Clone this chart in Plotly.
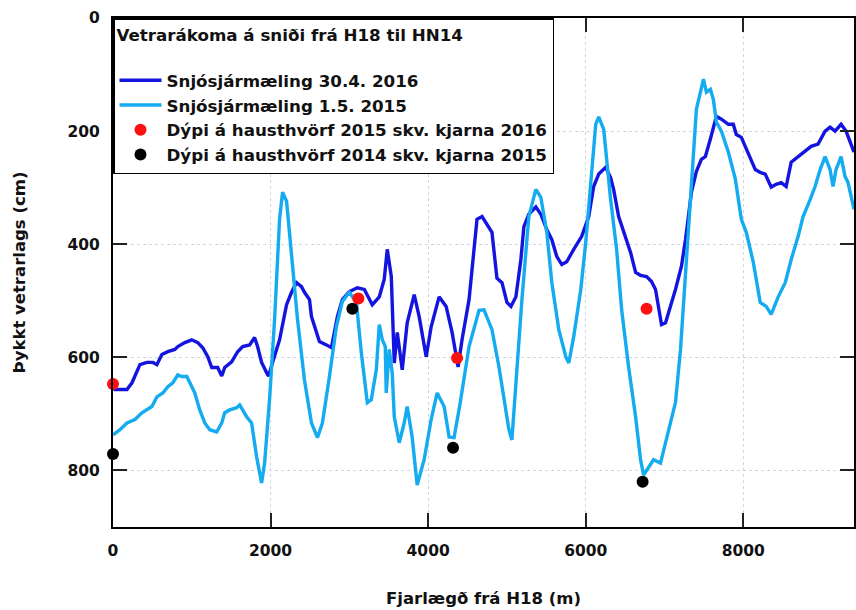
import plotly.graph_objects as go

# Snow radar 30.4.2016 (dark blue)
x_2016 = [0, 25, 177, 241, 342, 430, 506, 557, 620, 696, 785, 823, 911, 1000, 1076, 1139, 1203, 1253, 1329, 1380,
          1418, 1506, 1582, 1646, 1734, 1797, 1835, 1886, 1949, 1975, 2025, 2114, 2203, 2266, 2329, 2392, 2430, 2494,
          2519, 2620, 2709, 2772, 2848, 2911, 3000, 3101, 3190, 3291, 3380, 3443, 3481, 3532, 3570, 3608, 3671, 3734,
          3823, 3886, 3975, 4038, 4139, 4228, 4304, 4380, 4430, 4519, 4620, 4684, 4810, 4873, 4937, 5000, 5051, 5114,
          5177, 5215, 5278, 5367, 5430, 5506, 5570, 5633, 5696, 5759, 5848, 5949, 6038, 6101, 6165, 6253, 6316, 6354,
          6418, 6506, 6570, 6633, 6696, 6772, 6835, 6886, 6924, 6962, 7013, 7076, 7139, 7215, 7266, 7342, 7405, 7468,
          7519, 7582, 7620, 7658, 7722, 7810, 7873, 7911, 7975, 8063, 8152, 8215, 8278, 8354, 8418, 8481, 8544, 8608,
          8696, 8785, 8861, 8949, 9038, 9101, 9165, 9241, 9304, 9405]
y_2016 = [655, 657, 657, 645, 613, 609, 609, 613, 595, 590, 586, 581, 574, 569, 574, 583, 599, 618, 618, 633,
          618, 608, 590, 581, 578, 565, 581, 609, 627, 633, 609, 569, 507, 485, 468, 475, 485, 498,
          528, 572, 578, 583, 528, 498, 484, 477, 480, 507, 493, 462, 409, 457, 610, 556, 622, 539,
          489, 528, 599, 546, 493, 510, 556, 617, 569, 498, 356, 351, 379, 460, 468, 503, 510, 493,
          427, 369, 347, 334, 347, 374, 392, 422, 436, 431, 409, 386, 351, 298, 276, 264, 282, 303,
          351, 386, 415, 450, 455, 457, 466, 480, 510, 542, 539, 510, 480, 439, 392, 308, 271, 250,
          245, 214, 191, 174, 179, 188, 188, 206, 211, 241, 268, 273, 276, 299, 294, 291, 298, 255,
          245, 236, 227, 223, 200, 193, 200, 188, 200, 237]

# Snow radar 1.5.2015 (light blue)
x_2015 = [0, 89, 177, 278, 367, 430, 494, 557, 633, 696, 759, 823, 873, 937, 975, 1038, 1101, 1165, 1228, 1316,
          1380, 1418, 1481, 1570, 1608, 1696, 1759, 1823, 1886, 1924, 1987, 2051, 2114, 2152, 2203, 2266, 2342, 2430,
          2519, 2595, 2658, 2747, 2835, 2911, 3000, 3089, 3152, 3228, 3278, 3342, 3380, 3418, 3456, 3468, 3506, 3544,
          3570, 3633, 3696, 3734, 3797, 3861, 3949, 4038, 4114, 4203, 4266, 4329, 4405, 4519, 4646, 4709, 4810, 4899,
          5025, 5063, 5127, 5190, 5278, 5367, 5430, 5506, 5570, 5658, 5747, 5785, 5848, 5937, 6000, 6063, 6127, 6165,
          6228, 6316, 6392, 6456, 6544, 6633, 6696, 6734, 6797, 6861, 6949, 7013, 7076, 7139, 7203, 7278, 7342, 7405,
          7456, 7494, 7532, 7582, 7620, 7658, 7722, 7810, 7899, 7975, 8038, 8127, 8215, 8291, 8354, 8443, 8532, 8608,
          8696, 8759, 8848, 8911, 8975, 9038, 9101, 9139, 9177, 9241, 9291, 9329, 9405]
y_2015 = [737, 728, 716, 710, 698, 693, 687, 670, 663, 652, 645, 631, 634, 634, 645, 663, 693, 716, 728, 732,
          716, 698, 693, 689, 684, 705, 716, 776, 822, 787, 675, 533, 356, 308, 324, 415, 533, 640,
          716, 742, 716, 634, 546, 501, 485, 503, 592, 680, 675, 622, 542, 569, 581, 663, 586, 627,
          705, 751, 716, 687, 741, 826, 781, 710, 663, 687, 741, 742, 682, 581, 517, 516, 551, 617,
          728, 746, 622, 498, 351, 303, 317, 379, 468, 551, 599, 610, 563, 480, 397, 291, 188, 175,
          197, 321, 409, 516, 617, 705, 781, 808, 794, 781, 787, 751, 716, 680, 586, 427, 308, 161,
          131, 108, 131, 126, 144, 184, 200, 237, 285, 356, 379, 432, 503, 510, 524, 493, 468, 427,
          386, 351, 321, 298, 268, 245, 268, 298, 268, 245, 280, 291, 338]

# Core depths
x_core2016 = [0, 3114, 4367, 6772]
y_core2016 = [647, 496, 601, 514]
x_core2015 = [0, 3038, 4316, 6722]
y_core2015 = [771, 514, 760, 820]

FONT = "DejaVu Sans, Liberation Sans, Arial, sans-serif"

fig = go.Figure()
fig.add_trace(go.Scatter(x=x_2016, y=y_2016, mode="lines", name="Snjósjármæling 30.4. 2016",
                         line=dict(color="#1414E0", width=3.4)))
fig.add_trace(go.Scatter(x=x_2015, y=y_2015, mode="lines", name="Snjósjármæling 1.5. 2015",
                         line=dict(color="#14ABF0", width=3.4)))
fig.add_trace(go.Scatter(x=x_core2016, y=y_core2016, mode="markers",
                         name="Dýpi á hausthvörf 2015 skv. kjarna 2016",
                         marker=dict(color="#FF1010", size=12), cliponaxis=False))
fig.add_trace(go.Scatter(x=x_core2015, y=y_core2015, mode="markers",
                         name="Dýpi á hausthvörf 2014 skv. kjarna 2015",
                         marker=dict(color="#000000", size=12), cliponaxis=False))

axis_common = dict(
    showline=True, linecolor="black", linewidth=2,
    ticks="inside", ticklen=14, tickwidth=2, tickcolor="#222",
    mirror="ticks",
    showgrid=True, gridcolor="#d4d4e0", griddash="dot", gridwidth=1,
    zeroline=False,
    tickfont=dict(family=FONT, size=15.5, color="#111", weight="bold"),
)

fig.update_xaxes(range=[0, 9405], tickvals=[0, 2000, 4000, 6000, 8000],
                 ticklabelstandoff=8,
                 title=dict(text="Fjarlægð frá H18 (m)", standoff=34,
                            font=dict(family=FONT, size=16.5, color="#111", weight="bold")),
                 **axis_common)
fig.update_yaxes(range=[900, 0], tickvals=[0, 200, 400, 600, 800],
                 ticklabelstandoff=8,
                 title=dict(text="Þykkt vetrarlags (cm)", standoff=38,
                            font=dict(family=FONT, size=16.5, color="#111", weight="bold")),
                 **axis_common)

fig.update_layout(
    width=856, height=610,
    margin=dict(l=113, r=0, t=18, b=83),
    paper_bgcolor="white", plot_bgcolor="white",
    font=dict(family=FONT, color="#111"),
    legend=dict(
        x=0, y=1, xanchor="left", yanchor="top",
        bgcolor="white", bordercolor="black", borderwidth=1.5,
        itemwidth=42,
        title=dict(text="Vetrarákoma á sniði frá H18 til HN14<br> ",
                   font=dict(family=FONT, size=16.7, color="#111", weight="bold")),
        font=dict(family=FONT, size=16.7, color="#111", weight="bold"),
        tracegroupgap=0,
    ),
    showlegend=True,
)

fig.write_html("out.html")
